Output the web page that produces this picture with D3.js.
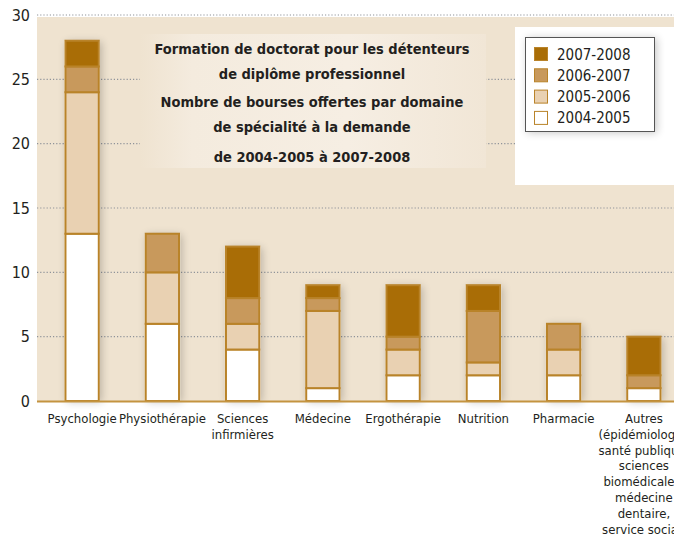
<!DOCTYPE html>
<html>
<head>
<meta charset="utf-8">
<script src="https://cdn.jsdelivr.net/npm/d3@7"></script>
<style>
  body { margin: 0; background: #fff; }
  svg { display: block; font-family: "DejaVu Sans Condensed", sans-serif; }
</style>
</head>
<body>
<svg id="chart" width="674" height="536"></svg>
<script>
// categories and stacked values (one array per school year)
var categories = ['Psychologie', 'Physiothérapie', 'Sciences infirmières', 'Médecine',
    'Ergothérapie', 'Nutrition', 'Pharmacie', 'Autres'];
var categoryLines = [
    ['Psychologie'], ['Physiothérapie'], ['Sciences', 'infirmières'], ['Médecine'],
    ['Ergothérapie'], ['Nutrition'], ['Pharmacie'],
    ['Autres', '(épidémiologie,', 'santé publique,', 'sciences', 'biomédicales,', 'médecine', 'dentaire,', 'service social)']
];
var years = ['2004-2005', '2005-2006', '2006-2007', '2007-2008'];
var v2004 = [13, 6, 4, 1, 2, 2, 2, 1];
var v2005 = [11, 4, 2, 6, 2, 1, 2, 0];
var v2006 = [2, 3, 2, 1, 1, 4, 2, 1];
var v2007 = [2, 0, 4, 1, 4, 2, 0, 3];
var yTicks = [0, 5, 10, 15, 20, 25, 30];
var titleLines = [
    'Formation de doctorat pour les détenteurs',
    'de diplôme professionnel',
    'Nombre de bourses offertes par domaine',
    'de spécialité à la demande',
    'de 2004-2005 à 2007-2008'
];

var colors = {
    '2004-2005': '#ffffff',
    '2005-2006': '#e9d1b2',
    '2006-2007': '#c8995c',
    '2007-2008': '#a96d06'
};
var strokeColor = '#b98329';

(function() {
var svg = d3.select('#chart');
var plotLeft = 37, plotRight = 674, plotTop = 15, plotBottom = 401;

var rows = categories.map(function(c, i) {
    return {cat: c, '2004-2005': v2004[i], '2005-2006': v2005[i], '2006-2007': v2006[i], '2007-2008': v2007[i]};
});

var x = d3.scaleBand().domain(categories).range([42, 684]).paddingInner(0.56).paddingOuter(0.28);
var y = d3.scaleLinear().domain([0, 30]).range([plotBottom, plotTop]);

var defs = svg.append('defs');
var shadow = defs.append('filter').attr('id', 'glow').attr('x', '-50%').attr('y', '-20%').attr('width', '200%').attr('height', '140%');
shadow.append('feGaussianBlur').attr('in', 'SourceAlpha').attr('stdDeviation', 4).attr('result', 'b');
shadow.append('feOffset').attr('in', 'b').attr('dx', 2).attr('dy', 1).attr('result', 'o');
shadow.append('feComponentTransfer').attr('in', 'o').attr('result', 'f')
    .append('feFuncA').attr('type', 'linear').attr('slope', 0.22);
var m = shadow.append('feMerge');
m.append('feMergeNode').attr('in', 'f');
m.append('feMergeNode').attr('in', 'SourceGraphic');

var grad = defs.append('linearGradient').attr('id', 'titlebg');
grad.append('stop').attr('offset', '0%').attr('stop-color', '#efe3d0');
grad.append('stop').attr('offset', '15%').attr('stop-color', '#f4ebde');
grad.append('stop').attr('offset', '60%').attr('stop-color', '#f6eee3');
grad.append('stop').attr('offset', '100%').attr('stop-color', '#f1e6d6');

// plot background
svg.append('rect').attr('x', plotLeft).attr('y', y(30) + 2).attr('width', plotRight - plotLeft)
    .attr('height', plotBottom - y(30) - 2).attr('fill', '#efe3d0');

// grid
svg.append('g').selectAll('line').data(yTicks.filter(function(t) { return t > 0; })).enter().append('line')
    .attr('x1', plotLeft).attr('x2', plotRight)
    .attr('y1', function(d) { return y(d); }).attr('y2', function(d) { return y(d); })
    .attr('stroke', '#8f9399').attr('stroke-width', 1.2).attr('stroke-dasharray', '1.2,2');

// title panel
svg.append('rect').attr('x', 140).attr('y', 34).attr('width', 346).attr('height', 134).attr('fill', 'url(#titlebg)');
svg.append('g').selectAll('text').data(titleLines).enter().append('text')
    .attr('x', 312)
    .attr('y', function(d, i) { return [54, 79, 107, 132, 162][i]; })
    .attr('text-anchor', 'middle')
    .attr('font-size', 14.5).attr('font-weight', 'bold').attr('fill', '#231f20')
    .text(function(d) { return d; });

// legend panel
svg.append('rect').attr('x', 515).attr('y', 27).attr('width', 160).attr('height', 158).attr('fill', '#ffffff');
svg.append('rect').attr('x', 525.5).attr('y', 37.5).attr('width', 129).attr('height', 94)
    .attr('fill', '#fff').attr('stroke', '#555').attr('stroke-width', 1).attr('filter', 'url(#glow)');
var legend = svg.append('g').selectAll('g').data(years.slice().reverse()).enter().append('g')
    .attr('transform', function(d, i) { return 'translate(534,' + (47 + i * 21.3) + ')'; });
legend.append('rect').attr('x', 0.5).attr('y', 0.5).attr('width', 13).attr('height', 13)
    .attr('fill', function(d) { return colors[d]; }).attr('stroke', strokeColor);
legend.append('text').attr('x', 23).attr('y', 12.5).attr('fill', '#231f20')
    .attr('font-size', 15)
    .text(function(d) { return d; });

// bars
var stack = d3.stack().keys(years)(rows);
var barG = svg.append('g');
barG.selectAll('rect.shadow').data(rows).enter().append('rect')
    .attr('x', function(d) { return x(d.cat); })
    .attr('y', function(d) { return y(d3.sum(years, function(k) { return d[k]; })); })
    .attr('width', x.bandwidth())
    .attr('height', function(d) { return plotBottom - y(d3.sum(years, function(k) { return d[k]; })); })
    .attr('fill', '#fff').attr('filter', 'url(#glow)');
barG.selectAll('g').data(stack).enter().append('g')
    .attr('fill', function(s) { return colors[s.key]; })
    .selectAll('rect').data(function(s) { return s.filter(function(d) { return d[1] > d[0]; }); }).enter().append('rect')
    .attr('x', function(d) { return x(d.data.cat) + 1; })
    .attr('y', function(d) { return y(d[1]); })
    .attr('width', x.bandwidth() - 2)
    .attr('height', function(d) { return y(d[0]) - y(d[1]); })
    .attr('stroke', strokeColor).attr('stroke-width', 2);

// x baseline
svg.append('line').attr('x1', plotLeft).attr('x2', plotRight).attr('y1', plotBottom + 0.5).attr('y2', plotBottom + 0.5)
    .attr('stroke', '#c49440').attr('stroke-width', 2);

// y axis labels
var yAxis = d3.axisLeft(y).tickValues(yTicks).tickSize(0).tickPadding(6);
var ya = svg.append('g').attr('transform', 'translate(' + (plotLeft - 1) + ',0)').call(yAxis);
ya.select('.domain').remove();
ya.selectAll('text').attr('font-size', 16).attr('fill', '#231f20')
    .attr('font-family', '"DejaVu Sans Condensed", sans-serif');

// category labels
var xl = svg.append('g').selectAll('text').data(categories).enter().append('text')
    .attr('x', function(d) { return x(d) + x.bandwidth() / 2; })
    .attr('y', 423)
    .attr('text-anchor', 'middle')
    .attr('font-size', 13).attr('fill', '#231f20');
xl.selectAll('tspan').data(function(d, i) { return categoryLines[i]; }).enter().append('tspan')
    .attr('x', function() { return d3.select(this.parentNode).attr('x'); })
    .attr('dy', function(d, i) { return i === 0 ? 0 : 15.8; })
    .text(function(d) { return d; });
})();
</script>
</body>
</html>
